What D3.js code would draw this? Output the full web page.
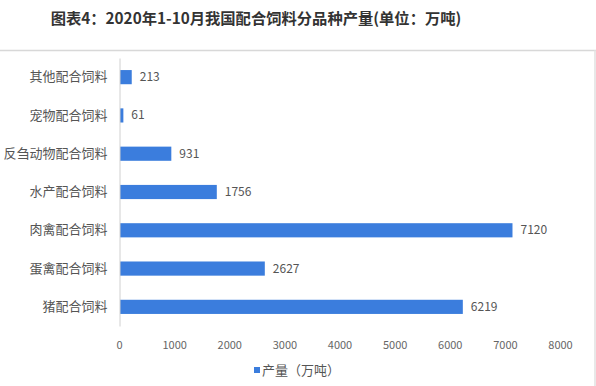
<!DOCTYPE html>
<html><head><meta charset="utf-8">
<script src="https://cdn.jsdelivr.net/npm/d3@7"></script>
<style>body{margin:0;background:#fff;}svg{display:block;font-family:"Noto Sans CJK SC","Microsoft YaHei",sans-serif;}</style>
</head><body>
<svg id="c" width="596" height="386"></svg>
<script>
const categories = ["其他配合饲料","宠物配合饲料","反刍动物配合饲料","水产配合饲料","肉禽配合饲料","蛋禽配合饲料","猪配合饲料"];
const values = [213, 61, 931, 1756, 7120, 2627, 6219];
const tickValues = [0,1000,2000,3000,4000,5000,6000,7000,8000];
const title = "图表4：2020年1-10月我国配合饲料分品种产量(单位：万吨)";
const legendLabel = "产量（万吨）";

const svg = d3.select("#c");
const color = "#3b7ddd";
svg.append("rect").attr("width",596).attr("height",386).attr("fill","#fff");
svg.append("text").attr("x",256).attr("y",24).attr("text-anchor","middle")
  .attr("font-size",15.3).attr("font-weight","bold").attr("fill","#333").text(title);
svg.append("line").attr("x1",0).attr("x2",596).attr("y1",50.5).attr("y2",50.5).attr("stroke","#d8d8d8").attr("stroke-width",1.5);
svg.append("line").attr("x1",595).attr("x2",595).attr("y1",50).attr("y2",386).attr("stroke","#e0e0e0").attr("stroke-width",1.5);

const x = d3.scaleLinear().domain([0,8000]).range([119,560]);
const y = d3.scaleBand().domain(categories).range([58,326]).paddingInner(0.63).paddingOuter(0.315);

svg.append("g").selectAll("rect").data(values).join("rect")
  .attr("x",x(0)+1).attr("y",(d,i)=>y(categories[i]))
  .attr("width",d=>x(d)-x(0)).attr("height",y.bandwidth()).attr("fill",color);

svg.append("g").selectAll("text").data(values).join("text")
  .attr("x",d=>x(d)+9).attr("y",(d,i)=>y(categories[i])+y.bandwidth()/2+4)
  .attr("font-size",12).attr("fill","#555").text(d=>d);

const ya = svg.append("g").attr("transform",`translate(${x(0)+0.5},0)`)
  .call(d3.axisLeft(y).tickSize(0).tickPadding(12));
ya.select(".domain").attr("stroke","#d0d0d0");
ya.selectAll("text").attr("font-size",13).attr("fill","#555").attr("font-family",'"Noto Sans CJK SC",sans-serif');

const xa = svg.append("g").attr("transform","translate(0,335)")
  .call(d3.axisBottom(x).tickValues(tickValues).tickSize(0).tickPadding(6).tickFormat(d3.format("d")));
xa.select(".domain").remove();
xa.selectAll("text").attr("font-size",11).attr("fill","#666").attr("font-family",'"Noto Sans CJK SC",sans-serif');

const lg = svg.append("g").attr("transform","translate(254,371)");
lg.append("rect").attr("x",0).attr("y",-4).attr("width",6).attr("height",6).attr("fill",color);
lg.append("text").attr("x",8).attr("y",4).attr("font-size",13).attr("fill","#555").text(legendLabel);
</script>
</body></html>
